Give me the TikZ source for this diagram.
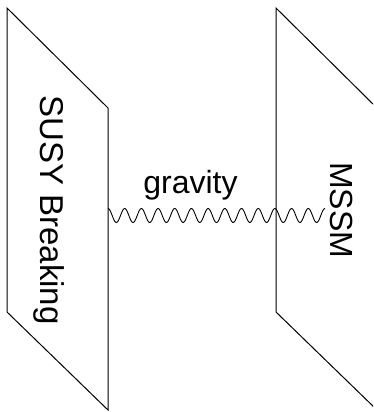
\documentclass[tikz,border=0pt]{standalone}
\usepackage{fontspec}
\setmainfont{Liberation Sans}

\begin{document}
\begin{tikzpicture}[x=1pt,y=-1pt,line width=1pt]
  \useasboundingbox (0,0) rectangle (373,412);
  \clip (0,0) rectangle (373,412);
  % 左のブレーン
  \draw (7,8) -- (108,108) -- (108,410) -- (7,312) -- cycle;
  \node[rotate=-90,anchor=base,inner sep=0pt,font=\fontsize{33}{38}\selectfont] (susy) at (40,210) {SUSY Breaking};

  % 右のブレーン
  \draw (276,8) -- (377,108) -- (377,410) -- (276,312) -- cycle;
  \node[rotate=-90,anchor=base,inner sep=0pt,font=\fontsize{32}{38}\selectfont] (mssm) at (330,210) {MSSM};

  % 重力の伝搬
  \coordinate (gL) at (108,215.5);
  \coordinate (gR) at (325,215.5);
  \draw[line width=0.9pt,shift={(gL)}] plot[domain=0:217,samples=260,smooth] (\x,{-7*cos(\x/16.69*360)});
  \node[anchor=base,inner sep=0pt,font=\fontsize{32}{38}\selectfont] (grav) at (190.5,193) {gravity};
\end{tikzpicture}
\end{document}
